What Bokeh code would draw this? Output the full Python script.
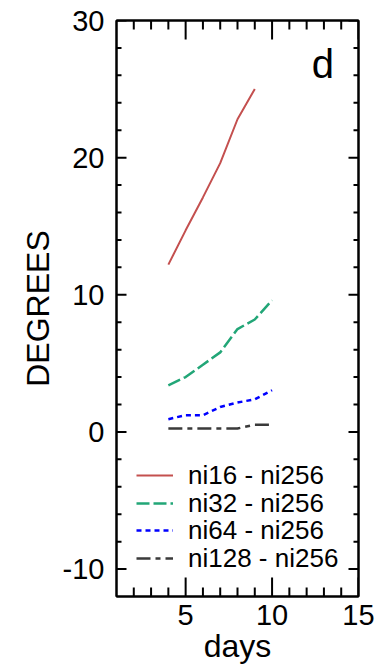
from bokeh.plotting import figure
from bokeh.models import (LinearAxis, FixedTicker, Range1d, Legend, LegendItem, Label,
                          PrintfTickFormatter, CustomJSTickFormatter)
from bokeh.embed import file_html
from bokeh.resources import INLINE

days = [4, 5, 6, 7, 8, 9, 10]
ni16 = [12.2, 14.7, 17.1, 19.6, 22.8, 25.0]
ni32 = [3.4, 4.0, 4.9, 5.8, 7.5, 8.2, 9.6]
ni64 = [0.93, 1.22, 1.22, 1.82, 2.14, 2.38, 3.04]
ni128 = [0.25, 0.25, 0.25, 0.25, 0.25, 0.53, 0.53]
labels = ["ni16 - ni256", "ni32 - ni256", "ni64 - ni256", "ni128 - ni256"]
x_major = [5, 10, 15]
x_minor = [2, 3, 4, 6, 7, 8, 9, 11, 12, 13, 14]
y_major = [-10, 0, 10, 20, 30]
y_minor = [-8, -6, -4, -2, 2, 4, 6, 8, 12, 14, 16, 18, 22, 24, 26, 28]
X0, X1 = 1, 15
Y0, Y1 = -12, 30

FONT = "Liberation Sans"
W, H = 386, 671
BL, BR, BT, BB = 116, 28, 20, 75
FRAME_W, FRAME_H = W - BL - BR, H - BT - BB

p = figure(width=W, height=H, x_range=Range1d(X0, X1), y_range=Range1d(Y0, Y1),
           output_backend="svg", toolbar_location=None,
           min_border_left=BL, min_border_right=BR, min_border_top=BT, min_border_bottom=BB,
           x_axis_label="days", y_axis_label="DEGREES")
p.grid.visible = False
p.outline_line_color = "black"
p.outline_line_width = 2
p.background_fill_color = "white"
p.border_fill_color = "white"

xt = FixedTicker(ticks=x_major, minor_ticks=x_minor)
yt = FixedTicker(ticks=y_major, minor_ticks=y_minor)
blank = CustomJSTickFormatter(code="return ''")

def style_axis(ax, ticker, labels_on):
    ax.ticker = ticker
    ax.major_tick_in = 0
    ax.major_tick_out = 0
    ax.minor_tick_in = 0
    ax.minor_tick_out = 0
    ax.axis_line_width = 2
    ax.axis_line_color = "black"
    ax.major_label_text_font = FONT
    ax.major_label_text_font_size = "29px"
    ax.major_label_text_color = "black"
    ax.axis_label_text_font = FONT
    ax.axis_label_text_font_size = "32px"
    ax.axis_label_text_font_style = "normal"
    ax.axis_label_text_color = "black"
    if labels_on:
        ax.formatter = PrintfTickFormatter(format="%d")
    else:
        ax.formatter = blank
        ax.major_label_standoff = 0

XT_MAJ, XT_MIN = 19, 9   # px, ticks on the x axes
YT_MAJ, YT_MIN = 10, 5   # px, ticks on the y axes

xa = p.xaxis[0]
style_axis(xa, xt, True)
xa.major_label_standoff = 8
xa.axis_label_standoff = 0

ya = p.yaxis[0]
style_axis(ya, yt, True)
ya.major_label_standoff = 12
ya.axis_label_standoff = 4

top = LinearAxis()
style_axis(top, xt, False)
p.add_layout(top, "above")
right = LinearAxis()
style_axis(right, yt, False)
p.add_layout(right, "right")

# inward tick marks on the four sides, as segments (pixel lengths -> data units)
dy = (Y1 - Y0) / FRAME_H
dx = (X1 - X0) / FRAME_W
bx0, by0, bx1, by1 = [], [], [], []
for ticks, L in ((x_major, XT_MAJ), (x_minor, XT_MIN)):
    for t in ticks:
        bx0 += [t, t]
        bx1 += [t, t]
        by0 += [Y0, Y1]
        by1 += [Y0 + L * dy, Y1 - L * dy]
for ticks, L in ((y_major, YT_MAJ), (y_minor, YT_MIN)):
    for t in ticks:
        bx0 += [X0, X1]
        bx1 += [X0 + L * dx, X1 - L * dx]
        by0 += [t, t]
        by1 += [t, t]
p.segment(x0=bx0, y0=by0, x1=bx1, y1=by1, line_color="black", line_width=2)

r1 = p.line(days[:len(ni16)], ni16, line_color="#c4504f", line_width=2)
r2 = p.line(days, ni32, line_color="#22a677", line_width=2.5, line_dash="13 4")
r3 = p.line(days, ni64, line_color="#0000ff", line_width=2.5, line_dash="5 4")
r4 = p.line(days, ni128, line_color="#3a3a3a", line_width=2.5, line_dash="14 5 5 5")

# one single-row legend per series so the rows sit at the reference pitch
legend_rows = [(labels[0], r1, 105), (labels[1], r2, 77), (labels[2], r3, 50), (labels[3], r4, 22)]
for lab, rend, ly in legend_rows:
    lg = Legend(items=[LegendItem(label=lab, renderers=[rend])],
                location=(20, ly), padding=0, margin=0, spacing=0,
                border_line_color=None, background_fill_alpha=0,
                glyph_width=37, glyph_height=32, label_height=32, label_standoff=15,
                label_text_font=FONT, label_text_font_size="26px",
                label_text_line_height=1.0, label_text_color="black")
    p.add_layout(lg)

p.add_layout(Label(x=12.3, y=28.45, text="d", text_font=FONT, text_font_size="40px",
                   text_color="black", text_baseline="top"))

open("out.html", "w").write(file_html(p, INLINE))
